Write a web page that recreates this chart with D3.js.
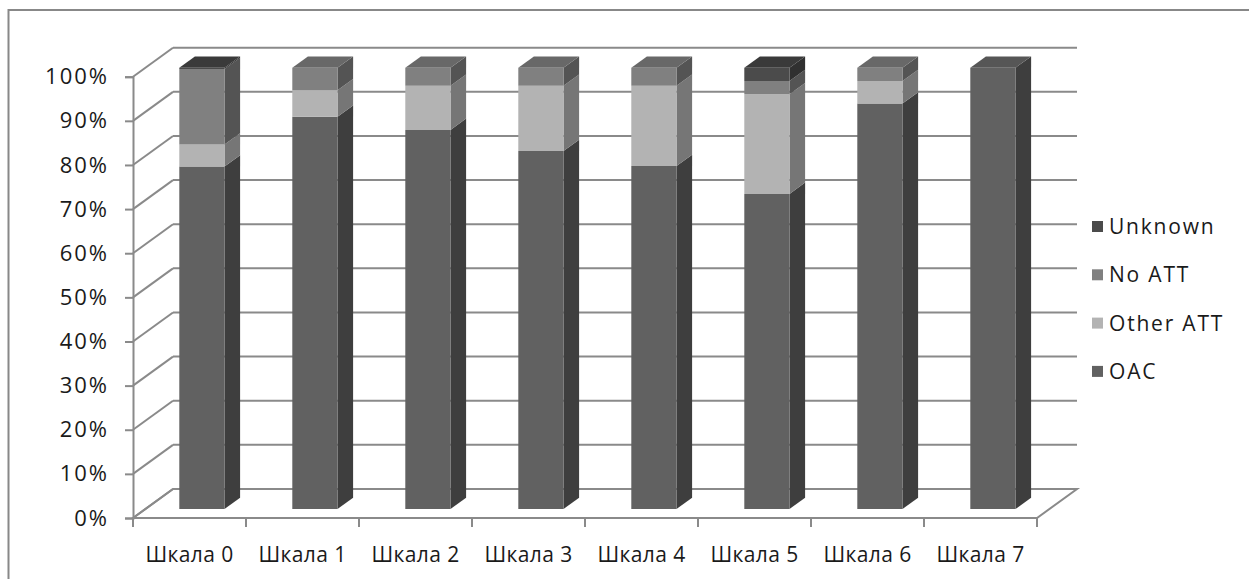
<!DOCTYPE html>
<html>
<head>
<meta charset="utf-8">
<script src="https://cdn.jsdelivr.net/npm/d3@7"></script>
<style>
  html, body { margin: 0; padding: 0; background: #fff; }
  svg { display: block; }
  text { font-family: "Open Sans", sans-serif; fill: #1a1a1a; }
</style>
</head>
<body>
<svg id="chart" width="1249" height="579"></svg>
<script>
// Shares per scale, in percent (100% stacked)
const categories = ["Шкала 0", "Шкала 1", "Шкала 2", "Шкала 3", "Шкала 4", "Шкала 5", "Шкала 6", "Шкала 7"];
const seriesNames = ["OAC", "Other ATT", "No ATT", "Unknown"];
const oac      = [77.6, 88.9, 85.9, 81.1, 77.7, 71.4, 91.9, 100];
const otherAtt = [5.0, 6.0, 10.0, 14.8, 18.2, 22.6, 5.1, 0];
const noAtt    = [17.1, 5.1, 4.1, 4.1, 4.1, 3.0, 3.0, 0];
const unknown  = [0.3, 0, 0, 0, 0, 3.0, 0, 0];
const yTicks = [0, 10, 20, 30, 40, 50, 60, 70, 80, 90, 100];

const seriesValues = [oac, otherAtt, noAtt, unknown];

// face shades per series: front, side, top
const shades = {
  "OAC":       { front: "#616161", side: "#3e3e3e", top: "#565656" },
  "Other ATT": { front: "#b3b3b3", side: "#767676", top: "#9a9a9a" },
  "No ATT":    { front: "#808080", side: "#545454", top: "#686868" },
  "Unknown":   { front: "#4b4b4b", side: "#303030", top: "#3a3a3a" }
};

const svg = d3.select("#chart");

// outer chart-area frame
svg.append("rect")
  .attr("x", 8.5).attr("y", 10).attr("width", 1260).attr("height", 600)
  .attr("fill", "none").attr("stroke", "#888").attr("stroke-width", 2);

// front plane scales
const x = d3.scaleBand().domain(categories).range([133, 1037]).paddingInner(0.6).paddingOuter(0.3);
const y = d3.scaleLinear().domain([0, 100]).range([518, 76.7]);

// depth offset of the oblique projection
const DEPTH_X = 40, DEPTH_Y = -29;
const proj = (px, py, z) => [px + DEPTH_X * z, py + DEPTH_Y * z];

const gridColor = "#8a8a8a";
const walls = svg.append("g");

// back-wall gridlines and side-wall diagonals
yTicks.forEach(t => {
  const [bx, by] = proj(133, y(t), 1);
  walls.append("line")
    .attr("x1", 133).attr("y1", y(t)).attr("x2", bx).attr("y2", by)
    .attr("stroke", gridColor).attr("stroke-width", 2);
  walls.append("line")
    .attr("x1", bx).attr("y1", by).attr("x2", proj(1037, 0, 1)[0]).attr("y2", by)
    .attr("stroke", gridColor).attr("stroke-width", 2);
});

// floor outline
const floorPts = [proj(133, y(0), 0), proj(1037, y(0), 0), proj(1037, y(0), 1), proj(133, y(0), 1)];
walls.append("path")
  .attr("d", "M" + floorPts.map(p => p.join(",")).join("L") + "Z")
  .attr("fill", "none").attr("stroke", gridColor).attr("stroke-width", 2);

// value axis
const yAxis = svg.append("g").attr("transform", "translate(133,0)")
  .call(d3.axisLeft(y).tickValues(yTicks).tickSize(8).tickPadding(16).tickFormat(d => d + "%"));
yAxis.select(".domain").attr("stroke", gridColor).attr("stroke-width", 2);
yAxis.selectAll(".tick line").attr("stroke", gridColor).attr("stroke-width", 2);
yAxis.selectAll(".tick text")
  .style("font-family", "'Open Sans', sans-serif").attr("font-size", 22)
  .attr("fill", "#1a1a1a").attr("letter-spacing", 2);

// category axis
const tickXs = d3.range(categories.length + 1).map(i => 133 + i * x.step());
const xAxis = svg.append("g");
tickXs.forEach(tx => {
  xAxis.append("line").attr("x1", tx).attr("x2", tx).attr("y1", 518).attr("y2", 527)
    .attr("stroke", gridColor).attr("stroke-width", 2);
});
xAxis.selectAll("text.cat").data(categories).enter().append("text")
  .attr("class", "cat")
  .attr("x", d => x(d) + x.bandwidth() / 2)
  .attr("y", 562)
  .attr("text-anchor", "middle")
  .attr("font-size", 21)
  .attr("letter-spacing", 0.4)
  .text(d => d);

// bars: boxes placed in the middle of the depth
const Z0 = 0.31, Z1 = 0.70;
const poly = pts => "M" + pts.map(p => p.join(",")).join("L") + "Z";
const barLayer = svg.append("g");

categories.forEach((cat, i) => {
  const g = barLayer.append("g");
  let acc = 0;
  const x0 = x(cat), x1 = x(cat) + x.bandwidth();
  const segs = [];
  seriesNames.forEach((name, s) => {
    const v = seriesValues[s][i];
    if (v > 0) { segs.push({ name, lo: acc, hi: acc + v }); acc += v; }
  });
  segs.forEach((seg, k) => {
    const c = shades[seg.name];
    const yl = y(seg.lo), yh = y(seg.hi);
    // right side face
    g.append("path").attr("fill", c.side)
      .attr("d", poly([proj(x1, yl, Z0), proj(x1, yl, Z1), proj(x1, yh, Z1), proj(x1, yh, Z0)]));
    // top face of the uppermost segment
    if (k === segs.length - 1) {
      g.append("path").attr("fill", c.top)
        .attr("d", poly([proj(x0, yh, Z0), proj(x1, yh, Z0), proj(x1, yh, Z1), proj(x0, yh, Z1)]));
    }
    // front face
    g.append("path").attr("fill", c.front)
      .attr("d", poly([proj(x0, yl, Z0), proj(x1, yl, Z0), proj(x1, yh, Z0), proj(x0, yh, Z0)]));
  });
});

// legend, top series first
const legendItems = seriesNames.slice().reverse();
const legend = svg.append("g");
legendItems.forEach((name, k) => {
  const cy = 226.5 + k * 48.3;
  legend.append("rect").attr("x", 1092).attr("y", cy - 5.5).attr("width", 11).attr("height", 11)
    .attr("fill", shades[name].front);
  legend.append("text").attr("x", 1109).attr("y", cy).attr("dy", "0.36em")
    .attr("font-size", 21).attr("letter-spacing", 1.8).text(name);
});
</script>
</body>
</html>
